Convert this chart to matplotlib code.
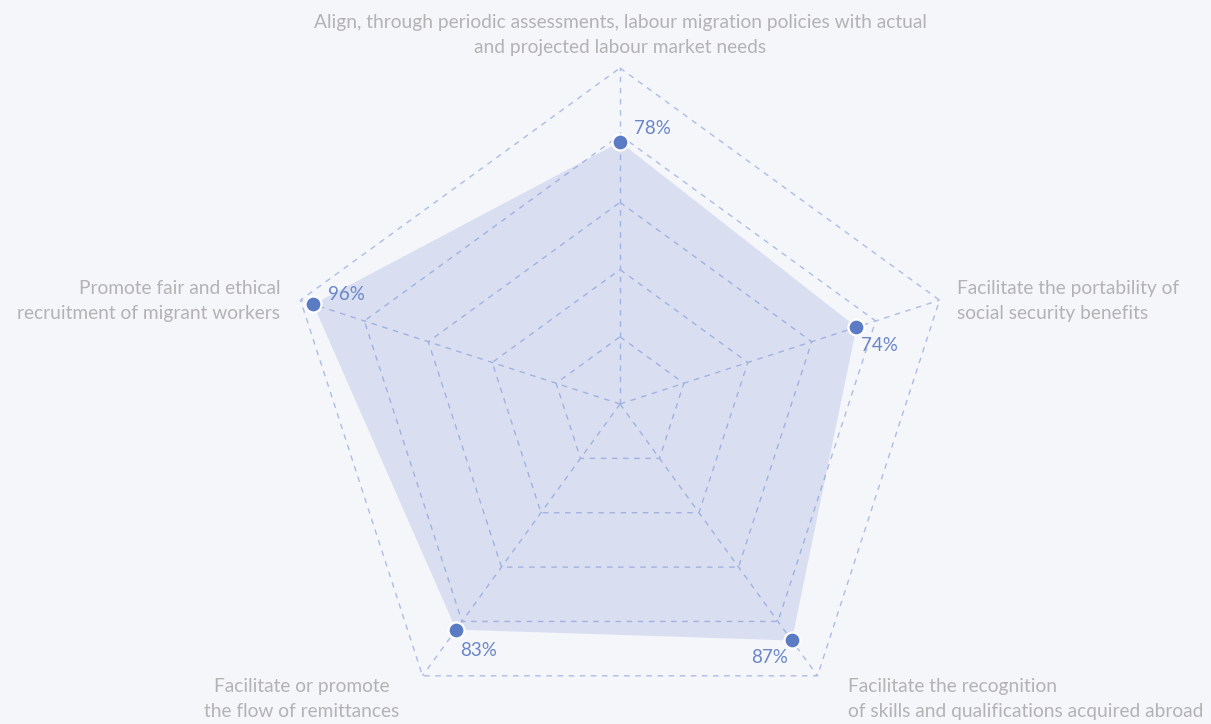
import numpy as np
import matplotlib
matplotlib.use("Agg")
import matplotlib.pyplot as plt

categories = [
	"Align, through periodic assessments, labour migration policies with actual\nand projected labour market needs",
	"Facilitate the portability of\nsocial security benefits",
	"Facilitate the recognition\nof skills and qualifications acquired abroad",
	"Facilitate or promote\nthe flow of remittances",
	"Promote fair and ethical\nrecruitment of migrant workers",
]
values = [78, 74, 87, 83, 96]
rings = [20, 40, 60, 80, 100]

BG = "#f5f6fa"
GRID = "#aebce6"
DOT = "#5b7bc4"
PCT = "#6a86c8"
LABEL = "#b3b3b3"

plt.rcParams["font.family"] = ["Lato", "DejaVu Sans"]

fig = plt.figure(figsize=(12.11, 7.24), dpi=100, facecolor=BG)
# radar centre at (620, 404) px, outer radius 336 px
ax = fig.add_axes([284/1211, -16/724, 672/1211, 672/724], projection="polar")
ax.set_facecolor("none")
ax.set_theta_offset(np.pi/2)
ax.set_theta_direction(-1)
ax.set_ylim(0, 100)
ax.grid(False)
ax.spines["polar"].set_visible(False)
ax.set_xticks([])
ax.set_yticks([])

n = len(categories)
angles = np.arange(n)*2*np.pi/n
closed = np.append(angles, angles[0])

dash = dict(color=GRID, lw=1, ls=(0, (4, 4)), clip_on=False)
for r in rings:
	ax.plot(closed, [r]*(n+1), **dash)
for a in angles:
	ax.plot([a, a], [0, rings[-1]], **dash)

vals = np.append(values, values[0])
ax.fill(closed, vals, color="#6d87cf", alpha=0.2, lw=0, zorder=3)
ax.plot(angles, values, "o", ms=11.5, mfc=DOT, mec="white", mew=1.6,
	zorder=5, clip_on=False)

# percentage labels: offsets in pixels
pct_off = [(14, 13, "left"), (5, -18, "left"), (-4, -17, "right"), (4, -21, "left"), (15, 10, "left")]
for a, v, (dx, dy, ha) in zip(angles, values, pct_off):
	ax.annotate(f"{v}%", xy=(a, v), xytext=(dx, dy), textcoords="offset pixels",
		ha=ha, va="center", fontsize=13.5, color=PCT, zorder=6)

# category labels
lab_pos = [
	(0, 12, "center", "bottom", "center"),
	(17, -1, "left", "center", "left"),
	(31, -2, "left", "top", "left"),
	(-23, -2, "right", "top", "center"),
	(-20, -1, "right", "center", "right"),
]
for a, txt, (dx, dy, ha, va, ma) in zip(angles, categories, lab_pos):
	ax.annotate(txt, xy=(a, 100), xytext=(dx, dy), textcoords="offset pixels",
		ha=ha, va=va, multialignment=ma, fontsize=13.8, color=LABEL,
		linespacing=1.6, annotation_clip=False)

fig.savefig("out.png", dpi=100, facecolor=BG)
